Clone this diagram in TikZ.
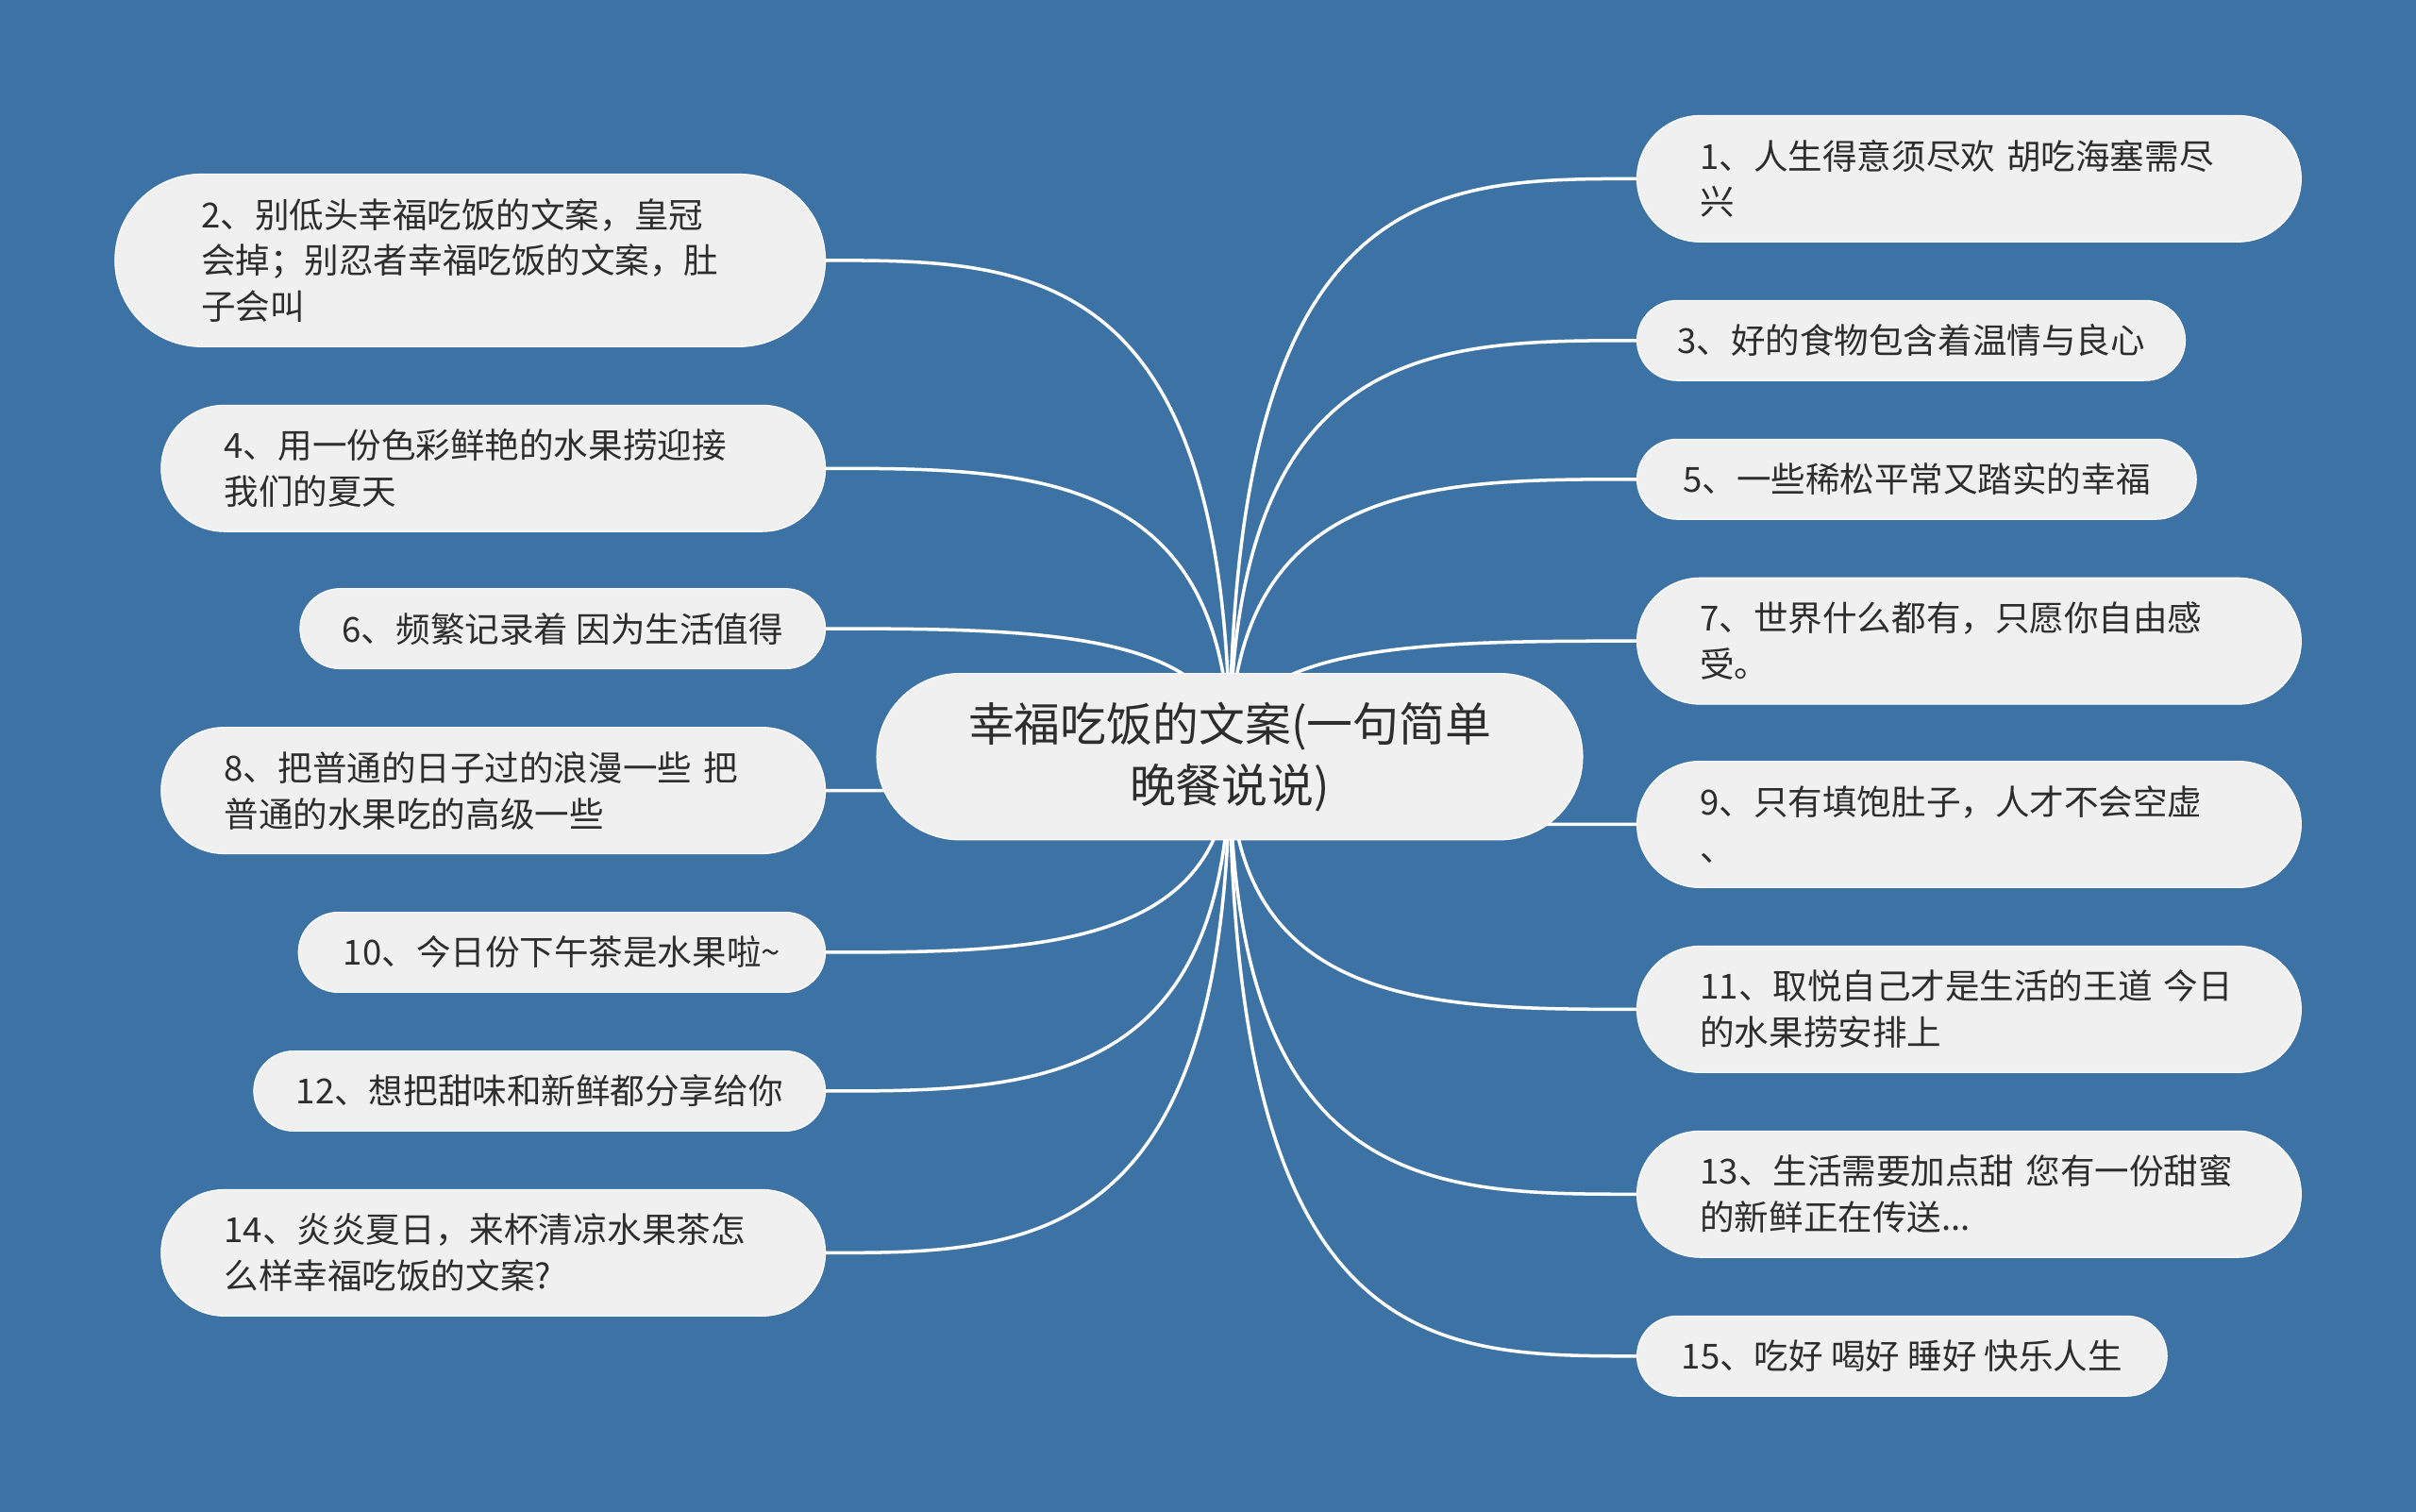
\documentclass[tikz,border=0pt]{standalone}
\usepackage{fontspec}
\setmainfont{Noto Sans CJK SC}
\usepackage{xcolor}
\usepackage{tikz}
\usetikzlibrary{positioning,calc,backgrounds}

\definecolor{bgblue}{HTML}{3D72A5}
\definecolor{leafgray}{HTML}{F0F0F0}
\definecolor{inkgray}{HTML}{2D2D2D}

\tikzset{
    leafbase/.style={fill=leafgray, draw=white, line width=0.3pt, text=inkgray, inner ysep=0pt},
    longleaf/.style={leafbase, font=\fontsize{10.4}{13.9}\selectfont, text width=5.70cm, align=left,
        inner xsep=0.669cm, minimum height=1.339cm, rounded corners=0.669cm},
    tallleaf/.style={leafbase, font=\fontsize{10.4}{13.9}\selectfont, text width=5.70cm, align=left,
        inner xsep=0.914cm, minimum height=1.829cm, rounded corners=0.914cm},
    shortleaf/.style={leafbase, font=\fontsize{10.4}{13.9}\selectfont, align=center,
        inner xsep=0.42cm, minimum height=0.849cm, rounded corners=0.424cm},
    branch/.style={draw=white, line width=1pt}
}

\begin{document}
\begin{tikzpicture}
    \useasboundingbox (0, 0) rectangle (25.6, 16.02);

    % central topic
    \node [leafbase, font=\fontsize{13.9}{18.5}\selectfont, align=center, minimum width=7.48cm,
        minimum height=1.763cm, rounded corners=0.88cm] (ctr) at (13.03, 8.003)
        {幸福吃饭的文案(一句简单\\晚餐说说)};

    % right side
    \node [longleaf, anchor=west] (n1) at (17.34, 14.126) {1、人生得意须尽欢 胡吃海塞需尽\\兴};
    \node [shortleaf, anchor=west, minimum width=5.81cm] (n3) at (17.34, 12.412) {3、好的食物包含着温情与良心};
    \node [shortleaf, anchor=west, minimum width=5.927cm] (n5) at (17.34, 10.942) {5、一些稀松平常又踏实的幸福};
    \node [longleaf, anchor=west] (n7) at (17.34, 9.228) {7、世界什么都有，只愿你自由感\\受。};
    \node [longleaf, anchor=west] (n9) at (17.34, 7.285) {9、只有填饱肚子，人才不会空虚\\、};
    \node [longleaf, anchor=west] (n11) at (17.34, 5.326) {11、取悦自己才是生活的王道 今日\\的水果捞安排上};
    \node [longleaf, anchor=west] (n13) at (17.34, 3.367) {13、生活需要加点甜 您有一份甜蜜\\的新鲜正在传送...};
    \node [shortleaf, anchor=west, minimum width=5.617cm] (n15) at (17.34, 1.652) {15、吃好 喝好 睡好 快乐人生};

    % left side
    \node [tallleaf, anchor=east] (n2) at (8.751, 13.261) {2、别低头幸福吃饭的文案，皇冠\\会掉；别忍者幸福吃饭的文案，肚\\子会叫};
    \node [longleaf, anchor=east] (n4) at (8.751, 11.057) {4、用一份色彩鲜艳的水果捞迎接\\我们的夏天};
    \node [shortleaf, anchor=east, minimum width=5.567cm] (n6) at (8.751, 9.359) {6、频繁记录着 因为生活值得};
    \node [longleaf, anchor=east] (n8) at (8.751, 7.644) {8、把普通的日子过的浪漫一些 把\\普通的水果吃的高级一些};
    \node [shortleaf, anchor=east, minimum width=5.584cm] (n10) at (8.751, 5.930) {10、今日份下午茶是水果啦\textasciitilde};
    \node [shortleaf, anchor=east, minimum width=6.057cm] (n12) at (8.751, 4.460) {12、想把甜味和新鲜都分享给你};
    \node [longleaf, anchor=east] (n14) at (8.751, 2.746) {14、炎炎夏日，来杯清凉水果茶怎\\么样幸福吃饭的文案?};

    \begin{scope}[on background layer]
        \fill [bgblue] (0, 0) rectangle (25.6, 16.02);
        \foreach \n in {n1, n3, n5, n7, n9, n11, n13, n15}
            \draw [branch] (ctr.center) .. controls (ctr.center |- \n.west)
                and ($(ctr.center |- \n.west)!0.5!(\n.west)$) .. (\n.west);
        \foreach \n in {n2, n4, n6, n8, n10, n12, n14}
            \draw [branch] (ctr.center) .. controls (ctr.center |- \n.east)
                and ($(ctr.center |- \n.east)!0.5!(\n.east)$) .. (\n.east);
    \end{scope}
\end{tikzpicture}
\end{document}
